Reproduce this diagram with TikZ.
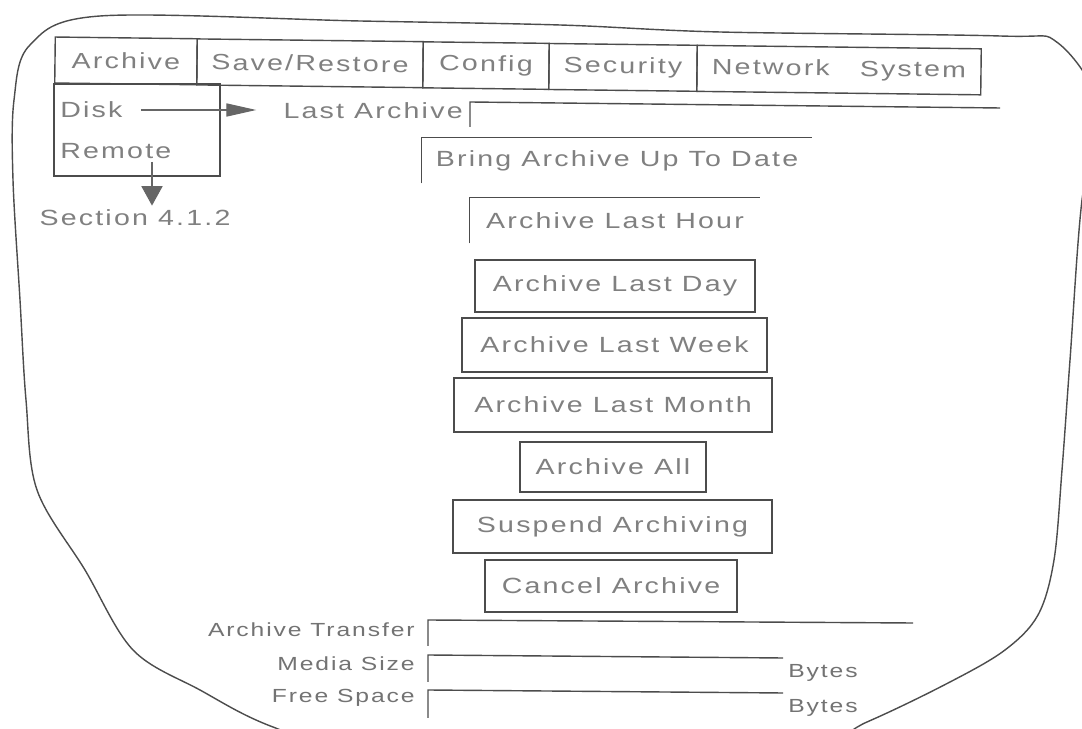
\documentclass[tikz,border=0pt]{standalone}
\usepackage{fontspec}
\setmainfont{Liberation Sans}[FakeStretch=1.3, LetterSpace=10]
\usetikzlibrary{arrows.meta,positioning}

\begin{document}
\begin{tikzpicture}[x=0.2mm, y=-0.2mm,
        ink/.style={draw=black!70, line width=0.8pt},
        txt/.style={text=black!50, font=\fontsize{12.5}{14}\selectfont, inner sep=0pt},
        small/.style={text=black!55, font=\fontsize{10.8}{12}\selectfont, inner sep=0pt},
        tab/.style={txt, ink, minimum height=9.2mm, rotate=-0.7},
        btn/.style={txt, ink, minimum height=10.6mm},
        pointer/.style={draw=black!65, line width=0.6pt, -{Triangle[length=17pt, width=7.5pt]}, color=black!60}]
    \fill[white] (0,0) rectangle (1082,729);
    \clip (0,0) rectangle (1082,729);

    % outline of the screen
    \draw[black!70, line width=0.8pt] plot[smooth cycle, tension=0.55] coordinates {
        (100,16) (360,21) (560,25) (720,32) (1000,36) (1058,43) (1100,110) (1082,200)
        (1070,360) (1062,470) (1054,560) (1038,615) (1005,650) (950,682) (867,722)
        (760,765) (400,765) (273,727) (200,690) (133,650) (85,570) (37,490) (26,400)
        (20,300) (13,180) (14,100) (30,45)};

    % tab bar
    \node[tab, minimum width=28.4mm] (tarchive) at (126,60.9) {Archive};
    \node[tab, minimum width=45.2mm] (tsave) at (310,63.3) {Save/Restore};
    \node[tab, minimum width=25.2mm] (tconfig) at (486,65.6) {Config};
    \node[tab, minimum width=29.6mm] (tsecurity) at (623,67.4) {Security};
    \node[tab, minimum width=56.8mm] (tnetwork) at (839,70.1) {Network\hspace{6mm}System};

    % drop-down menu
    \node[ink, minimum width=33.2mm, minimum height=18.4mm, inner sep=0pt] (menu) at (137,130) {};
    \node[txt, anchor=west] (disk) at (60,110) {Disk};
    \node[txt, anchor=west] (remote) at (60,151) {Remote};
    \node[txt] (sect) at (135,218) {Section 4.1.2};
    \coordinate (rtail) at (152,162);
    \draw[pointer, -{Triangle[length=11pt, width=12pt]}, shorten >=0.8mm] (rtail) -- (rtail |- sect.north);

    % last archive field
    \node[txt, anchor=east] (lastarch) at (463,111) {Last Archive};
    \draw[pointer, shorten <=3.6mm, shorten >=5.4mm] (disk.east) -- (disk.east -| lastarch.west);
    \draw[ink] (470,127) -- (470,102) -- (1000,108);

    % buttons
    \node[txt, minimum width=78mm, minimum height=9mm] (bring) at (617,160.5) {Bring Archive Up To Date};
    \draw[ink] (bring.south west) |- (bring.north east);
    \node[txt, minimum width=58mm, minimum height=9mm] (hour) at (615,220.5) {Archive Last Hour};
    \draw[ink] (hour.south west) |- (hour.north east);
    \node[btn, minimum width=56mm, minimum height=10.4mm] (day) at (615,286) {Archive Last Day};
    \node[btn, minimum width=61mm, minimum height=10.8mm] (week) at (614.5,345) {Archive Last Week};
    \node[btn, minimum width=63.6mm, minimum height=10.8mm] (month) at (613,405) {Archive Last Month};
    \node[btn, minimum width=37.2mm, minimum height=10mm] (all) at (613,467) {Archive All};
    \node[btn, minimum width=63.8mm] (suspend) at (612.5,526.5) {Suspend Archiving};
    \node[btn, minimum width=50.4mm, minimum height=10.4mm] (cancel) at (611,586) {Cancel Archive};

    % status fields
    \node[small, anchor=east] (transfer) at (415,630) {Archive Transfer};
    \draw[ink] (428,646) -- (428,620) -- (913,623);
    \node[small, anchor=east] (media) at (415,664) {Media Size};
    \draw[ink] (428,682) -- (428,655) -- (783,658);
    \node[small, anchor=west] (mbytes) at (788,673) {Bytes};
    \node[small, anchor=east] (free) at (415,698) {Free Space};
    \draw[ink] (428,718) -- (428,690) -- (783,693);
    \node[small, anchor=west] (fbytes) at (788,708) {Bytes};
\end{tikzpicture}
\end{document}
